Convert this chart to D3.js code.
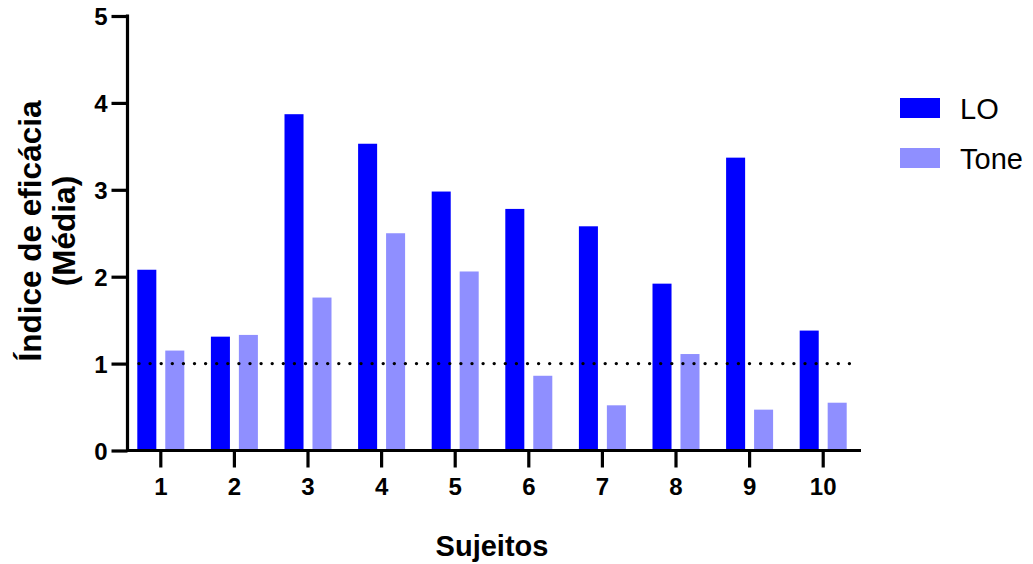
<!DOCTYPE html>
<html>
<head>
<meta charset="utf-8">
<script src="https://cdn.jsdelivr.net/npm/d3@7"></script>
<style>
  body { margin: 0; background: #fff; }
  text { font-family: "Liberation Sans", Arial, sans-serif; }
</style>
</head>
<body>
<div class="chart"></div>
<script>
var subjects = ["1", "2", "3", "4", "5", "6", "7", "8", "9", "10"];
var series = ["LO", "Tone"];
var loValues = [2.08, 1.31, 3.87, 3.53, 2.98, 2.78, 2.58, 1.92, 3.37, 1.38];
var toneValues = [1.15, 1.33, 1.76, 2.50, 2.06, 0.86, 0.52, 1.11, 0.47, 0.55];
var yTicks = [0, 1, 2, 3, 4, 5];
var refValue = 1;

var width = 1033, height = 564;
var colors = { LO: "#0000ff", Tone: "#8f8fff" };

var svg = d3.select(".chart")
    .append("svg")
    .attr("width", width)
    .attr("height", height);

var x = d3.scaleBand()
    .domain(subjects)
    .range([124, 860]);

var x1 = d3.scaleBand()
    .domain(series)
    .range([-23.5, 23.5])
    .paddingInner(0.32);

var y = d3.scaleLinear()
    .domain([0, 5])
    .range([450.5, 16]);

var rows = subjects.map(function(s, i) {
  return { subject: s, LO: loValues[i], Tone: toneValues[i] };
});

// bars
var group = svg.selectAll(".subject")
  .data(rows)
  .enter().append("g")
    .attr("class", "subject")
    .attr("transform", function(d) { return "translate(" + (x(d.subject) + x.bandwidth() / 2) + ",0)"; });

group.selectAll("rect")
  .data(function(d) { return series.map(function(k) { return { key: k, value: d[k] }; }); })
  .enter().append("rect")
    .attr("x", function(d) { return x1(d.key); })
    .attr("width", x1.bandwidth())
    .attr("y", function(d) { return y(d.value); })
    .attr("height", function(d) { return y(0) - y(d.value); })
    .style("fill", function(d) { return colors[d.key]; });

// dotted reference line
svg.append("line")
    .attr("x1", 139)
    .attr("x2", 855)
    .attr("y1", y(refValue))
    .attr("y2", y(refValue))
    .style("stroke", "#000")
    .style("stroke-width", 3.4)
    .style("stroke-linecap", "round")
    .style("stroke-dasharray", "0 11.1");

// y axis
var yAxis = svg.append("g")
    .attr("transform", "translate(127.5,0)")
    .call(d3.axisLeft(y).tickValues(yTicks).tickSize(16).tickSizeOuter(0).tickPadding(4).tickFormat(d3.format("d")));

// x axis
var xAxis = svg.append("g")
    .attr("transform", "translate(0," + y(0) + ")")
    .call(d3.axisBottom(x).tickSize(17).tickSizeOuter(0).tickPadding(10));

xAxis.select(".domain").attr("d", "M126,0H861");
yAxis.select(".domain").attr("d", "M0," + (y(5) - 1.5) + "V" + (y(0) + 1.5));

svg.selectAll(".domain, .tick line")
    .style("stroke", "#000")
    .style("stroke-width", 3.2);

svg.selectAll(".tick text")
    .style("font-size", "24px")
    .style("font-weight", "bold")
    .style("fill", "#000");

yAxis.selectAll(".tick text").attr("dy", "0.36em");

// axis titles
svg.append("text")
    .attr("transform", "translate(41,231) rotate(-90)")
    .attr("text-anchor", "middle")
    .style("font-size", "31.5px")
    .style("font-weight", "bold")
    .text("Índice de eficácia");

svg.append("text")
    .attr("transform", "translate(75,231) rotate(-90)")
    .attr("text-anchor", "middle")
    .style("font-size", "31.5px")
    .style("font-weight", "bold")
    .text("(Média)");

svg.append("text")
    .attr("x", 492)
    .attr("y", 556)
    .attr("text-anchor", "middle")
    .style("font-size", "29px")
    .style("font-weight", "bold")
    .text("Sujeitos");

// legend
var legend = svg.selectAll(".legend")
  .data(series)
  .enter().append("g")
    .attr("class", "legend")
    .attr("transform", function(d, i) { return "translate(900," + (98 + i * 50) + ")"; });

legend.append("rect")
    .attr("width", 40)
    .attr("height", 20)
    .style("fill", function(d) { return colors[d]; });

legend.append("text")
    .attr("x", 60)
    .attr("y", 21)
    .style("font-size", "29px")
    .text(function(d) { return d; });
</script>
</body>
</html>
